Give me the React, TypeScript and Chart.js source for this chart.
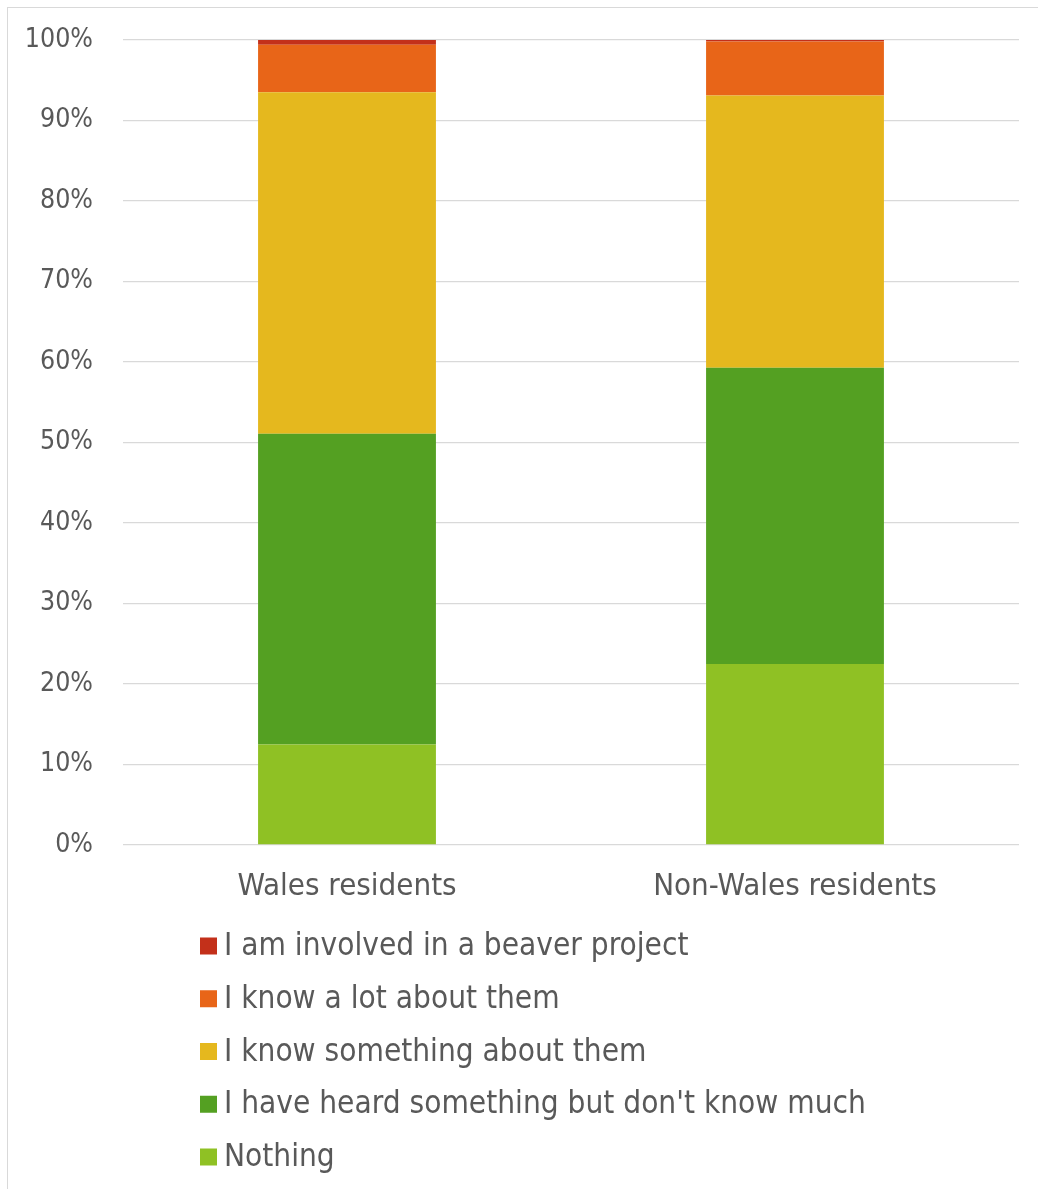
import React, { useEffect, useRef } from "react";
import { Chart, registerables } from "chart.js";

Chart.register(...registerables);

const categories = ["Wales residents", "Non-Wales residents"];
const seriesLabels = [
  "Nothing",
  "I have heard something but don't know much",
  "I know something about them",
  "I know a lot about them",
  "I am involved in a beaver project",
];
const nothing = [12.5, 22.5];
const heardSomething = [38.6, 36.8];
const knowSomething = [42.4, 33.8];
const knowALot = [5.9, 6.7];
const involved = [0.6, 0.2];
const seriesColors = ["#8FC124", "#54A022", "#E5B81E", "#E86518", "#C3301A"];

const TEXT = "#595959";
const MAIN_FONT = '"DejaVu Sans Condensed", "DejaVu Sans"';

export default function App() {
  const ref = useRef<HTMLCanvasElement>(null);

  useEffect(() => {
    if (!ref.current) return;
    const values = [nothing, heardSomething, knowSomething, knowALot, involved];

    const legendPlugin = {
      id: "stackLegend",
      afterDraw(chart: any) {
        const ctx = chart.ctx;
        const ds = chart.data.datasets;
        ctx.save();
        ctx.font = `31.3px ${MAIN_FONT}`;
        ctx.textBaseline = "middle";
        ctx.textAlign = "left";
        for (let k = 0; k < ds.length; k++) {
          const d = ds[ds.length - 1 - k];
          const cy = 938 + k * 52.75;
          ctx.fillStyle = d.backgroundColor;
          ctx.fillRect(192, cy - 8.5, 17, 17);
          ctx.fillStyle = TEXT;
          ctx.fillText(d.label, 216, cy + 1);
        }
        ctx.restore();
      },
    };

    const chart = new Chart(ref.current, {
      type: "bar",
      data: {
        labels: categories,
        datasets: seriesLabels.map((label, i) => ({
          label,
          data: values[i],
          backgroundColor: seriesColors[i],
          borderWidth: 0,
          barPercentage: 0.397,
          categoryPercentage: 1,
        })),
      },
      options: {
        animation: false,
        responsive: true,
        maintainAspectRatio: false,
        layout: { padding: { top: 32, right: 19, bottom: 264, left: 0 } },
        plugins: {
          legend: { display: false },
          tooltip: { enabled: false },
        },
        scales: {
          x: {
            stacked: true,
            grid: { display: false, drawTicks: false },
            border: { display: false },
            ticks: {
              color: TEXT,
              font: { family: MAIN_FONT, size: 31 },
              padding: 23,
              maxRotation: 0,
            },
            afterFit: (s: any) => {
              s.height = 80;
              s.paddingLeft = 0;
              s.paddingRight = 0;
            },
          },
          y: {
            stacked: true,
            min: 0,
            max: 100,
            grid: { color: "#d9d9d9", lineWidth: 1.3, drawTicks: false },
            border: { display: false },
            ticks: {
              stepSize: 10,
              color: TEXT,
              font: { family: MAIN_FONT, size: 26.5 },
              padding: 30,
              callback: (v: any) => `${v}%`,
            },
            afterFit: (s: any) => {
              s.width = 115;
              s.paddingTop = 0;
              s.paddingBottom = 0;
            },
          },
        },
      },
      plugins: [legendPlugin],
    });
    return () => chart.destroy();
  }, []);

  return (
    <div
      style={{
        position: "fixed",
        left: 7,
        top: 7,
        width: 1060,
        height: 1210,
        border: "1px solid #d9d9d9",
        background: "#fff",
      }}
    >
      <div style={{ position: "relative", width: 1030, height: 1181 }}>
        <canvas ref={ref} />
      </div>
    </div>
  );
}
